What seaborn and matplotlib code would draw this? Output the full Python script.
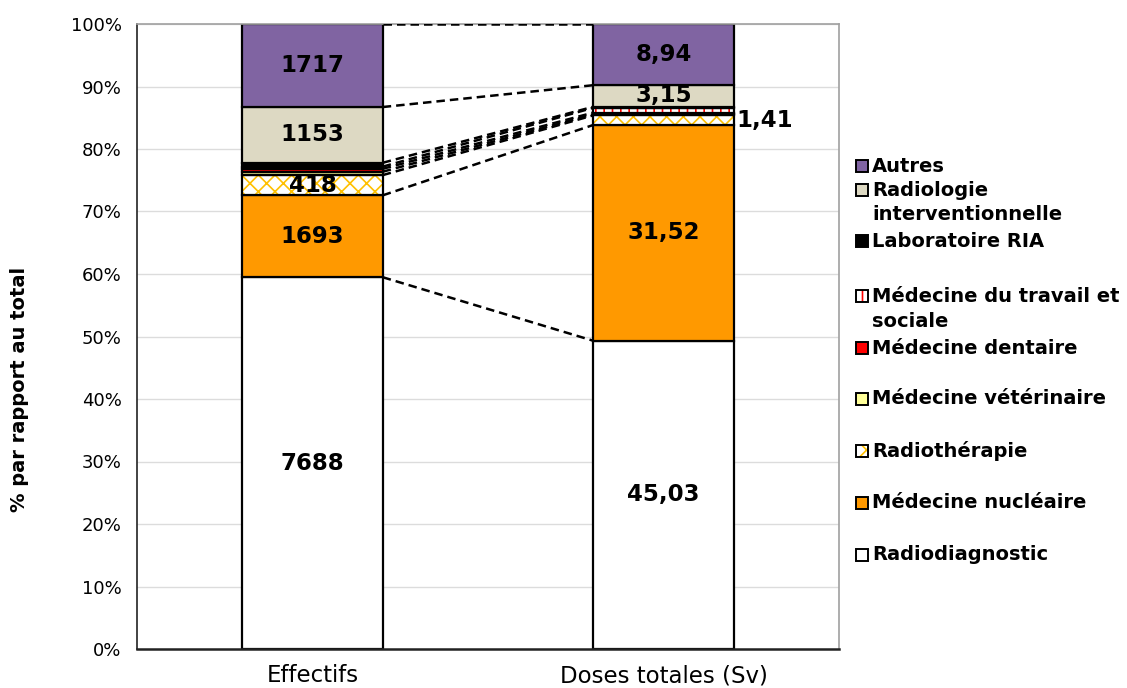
import matplotlib
matplotlib.use("Agg")
import matplotlib.pyplot as plt
from matplotlib.patches import Rectangle
import numpy as np
import pandas as pd
import seaborn as sns

# ---------------- data ----------------
categories = ["Effectifs", "Doses totales (Sv)"]
series = ["Radiodiagnostic", "Médecine nucléaire", "Radiothérapie",
          "Médecine vétérinaire", "Médecine dentaire",
          "Médecine du travail et sociale", "Laboratoire RIA",
          "Radiologie interventionnelle", "Autres"]
effectifs = [7688, 1693, 418, 70, 60, 45, 80, 1153, 1717]
doses = [45.03, 31.52, 1.41, 0.15, 0.25, 0.70, 0.15, 3.15, 8.94]
eff_labels = ["7688", "1693", "418", "", "", "", "", "1153", "1717"]
dose_labels = ["45,03", "31,52", "", "", "", "", "", "3,15", "8,94"]
dose_outside_labels = ["", "", "1,41", "", "", "", "", "", ""]
legend_order = ["Autres", "Radiologie\ninterventionnelle", "Laboratoire RIA",
                "Médecine du travail et\nsociale", "Médecine dentaire",
                "Médecine vétérinaire", "Radiothérapie",
                "Médecine nucléaire", "Radiodiagnostic"]
legend_keys = ["Autres", "Radiologie interventionnelle", "Laboratoire RIA",
               "Médecine du travail et sociale", "Médecine dentaire",
               "Médecine vétérinaire", "Radiothérapie",
               "Médecine nucléaire", "Radiodiagnostic"]

# ---------------- styles ----------------
styles = {
    "Radiodiagnostic": dict(face="white", hatch=None, hcol=None),
    "Médecine nucléaire": dict(face="#FF9900", hatch=None, hcol=None),
    "Radiothérapie": dict(face="white", hatch="xx", hcol="#FFC000"),
    "Médecine vétérinaire": dict(face="#FFFF99", hatch=None, hcol=None),
    "Médecine dentaire": dict(face="#FF0000", hatch=None, hcol=None),
    "Médecine du travail et sociale": dict(face="white", hatch="||", hcol="#FF0000"),
    "Laboratoire RIA": dict(face="black", hatch=None, hcol=None),
    "Radiologie interventionnelle": dict(face="#DDD9C3", hatch=None, hcol=None),
    "Autres": dict(face="#8064A2", hatch=None, hcol=None),
}

sns.set_theme(style="white")
plt.rcParams.update({
    "hatch.linewidth": 1.2,
    "text.color": "black",
    "axes.labelcolor": "black",
    "xtick.color": "black",
    "ytick.color": "black",
})

W, H = 1127, 688
fig = plt.figure(figsize=(W / 100, H / 100), dpi=100)
ax = fig.add_axes([137 / W, 1 - 649 / H, (839 - 137) / W, (649 - 24) / H])

eff = np.array(effectifs, float)
dos = np.array(doses, float)
eff_pct = eff / eff.sum()
dos_pct = dos / dos.sum()

df = pd.DataFrame({
    "cat": np.repeat(categories, len(series)),
    "series": series * 2,
    "pct": np.concatenate([eff_pct, dos_pct]),
})
df["bottom"] = df.groupby("cat", sort=False)["pct"].cumsum() - df["pct"]

bw = 0.4
for s in series:
    sub = df[df["series"] == s].set_index("cat").loc[categories].reset_index()
    st = styles[s]
    if st["hatch"]:
        sns.barplot(data=sub, x="cat", y="pct", order=categories, ax=ax,
                    bottom=sub["bottom"].values, width=bw, color="white",
                    saturation=1, edgecolor=st["hcol"], hatch=st["hatch"],
                    linewidth=0, err_kws={"linewidth": 0})
        sns.barplot(data=sub, x="cat", y="pct", order=categories, ax=ax,
                    bottom=sub["bottom"].values, width=bw, fill=False,
                    color="black", edgecolor="black", linewidth=1.6,
                    err_kws={"linewidth": 0})
    else:
        sns.barplot(data=sub, x="cat", y="pct", order=categories, ax=ax,
                    bottom=sub["bottom"].values, width=bw, color=st["face"],
                    saturation=1, edgecolor="black", linewidth=1.6,
                    err_kws={"linewidth": 0})

# connecting dashed lines
eff_top = np.cumsum(eff_pct)
dos_top = np.cumsum(dos_pct)
for a, b in zip(eff_top, dos_top):
    ax.plot([0 + bw / 2, 1 - bw / 2], [a, b], color="black", lw=1.8,
            linestyle=(0, (3.4, 2.0)), zorder=3)

# labels
lab_font = dict(fontsize=16.5, fontweight="bold", family="DejaVu Sans", color="black")
for i, s in enumerate(series):
    if eff_labels[i]:
        ax.text(0, (eff_top[i] - eff_pct[i] / 2), eff_labels[i], ha="center",
                va="center", zorder=5, **lab_font)
    if dose_labels[i]:
        ax.text(1, (dos_top[i] - dos_pct[i] / 2), dose_labels[i], ha="center",
                va="center", zorder=5, **lab_font)
    if dose_outside_labels[i]:
        ax.text(1 + bw / 2 + 0.008, (dos_top[i] - dos_pct[i] / 2),
                dose_outside_labels[i], ha="left", va="center", zorder=5, **lab_font)

# axes
ax.set_xlim(-0.5, 1.5)
ax.set_ylim(0, 1)
ax.set_yticks(np.arange(0, 1.01, 0.1))
ax.set_yticklabels([f"{int(round(v * 100))}%" for v in np.arange(0, 1.01, 0.1)],
                   fontsize=13, family="DejaVu Sans")
ax.set_xticks([0, 1])
ax.set_xticklabels(categories, fontsize=16.5, family="DejaVu Sans")
ax.set_xticks([-0.5, 0.5, 1.5], minor=True)
ax.tick_params(axis="x", which="major", length=0, pad=11)
ax.tick_params(axis="x", which="minor", length=7, width=0.9, color="#555555", direction="out")
ax.tick_params(axis="y", which="major", length=7, width=0.9, color="#808080", direction="out", pad=4)
ax.set_xlabel("")
ax.set_ylabel("% par rapport au total", fontsize=14, fontweight="bold",
              family="DejaVu Sans")
ax.yaxis.label.set_va("center")
ax.yaxis.set_label_coords((20 - 137) / (839 - 137), (649 - 389) / (649 - 24))
ax.yaxis.grid(True, color="#DCDCDC", linewidth=1.0)
ax.set_axisbelow(True)
for side in ["top", "right"]:
    ax.spines[side].set_color("#A0A0A0")
    ax.spines[side].set_linewidth(1.2)
ax.spines["left"].set_color("#222222")
ax.spines["left"].set_linewidth(1.2)
ax.spines["bottom"].set_color("#222222")
ax.spines["bottom"].set_linewidth(1.8)

# legend (manual layout, Excel-like)
leg_y = [[166], [190, 215], [241], [296, 321], [348], [399], [451], [503], [555]]
sq = 12
for key, lab, ys in zip(legend_keys, legend_order, leg_y):
    st = styles[key]
    y0 = ys[0]
    x0 = 856
    rect = Rectangle((x0 / W, 1 - (y0 + sq / 2) / H), sq / W, sq / H,
                     transform=fig.transFigure, facecolor=st["face"] if not st["hatch"] else "white",
                     edgecolor="black", linewidth=1.4)
    if st["hatch"]:
        hrect = Rectangle((x0 / W, 1 - (y0 + sq / 2) / H), sq / W, sq / H,
                          transform=fig.transFigure, facecolor="white",
                          edgecolor=st["hcol"], hatch=st["hatch"], linewidth=0)
        fig.add_artist(hrect)
        rect.set_facecolor("none")
    fig.add_artist(rect)
    for line, yy in zip(lab.split("\n"), ys):
        fig.text(872 / W, 1 - yy / H, line, fontsize=14, fontweight="bold",
                 family="DejaVu Sans", va="center", ha="left")

fig.savefig("out.png", dpi=100)
